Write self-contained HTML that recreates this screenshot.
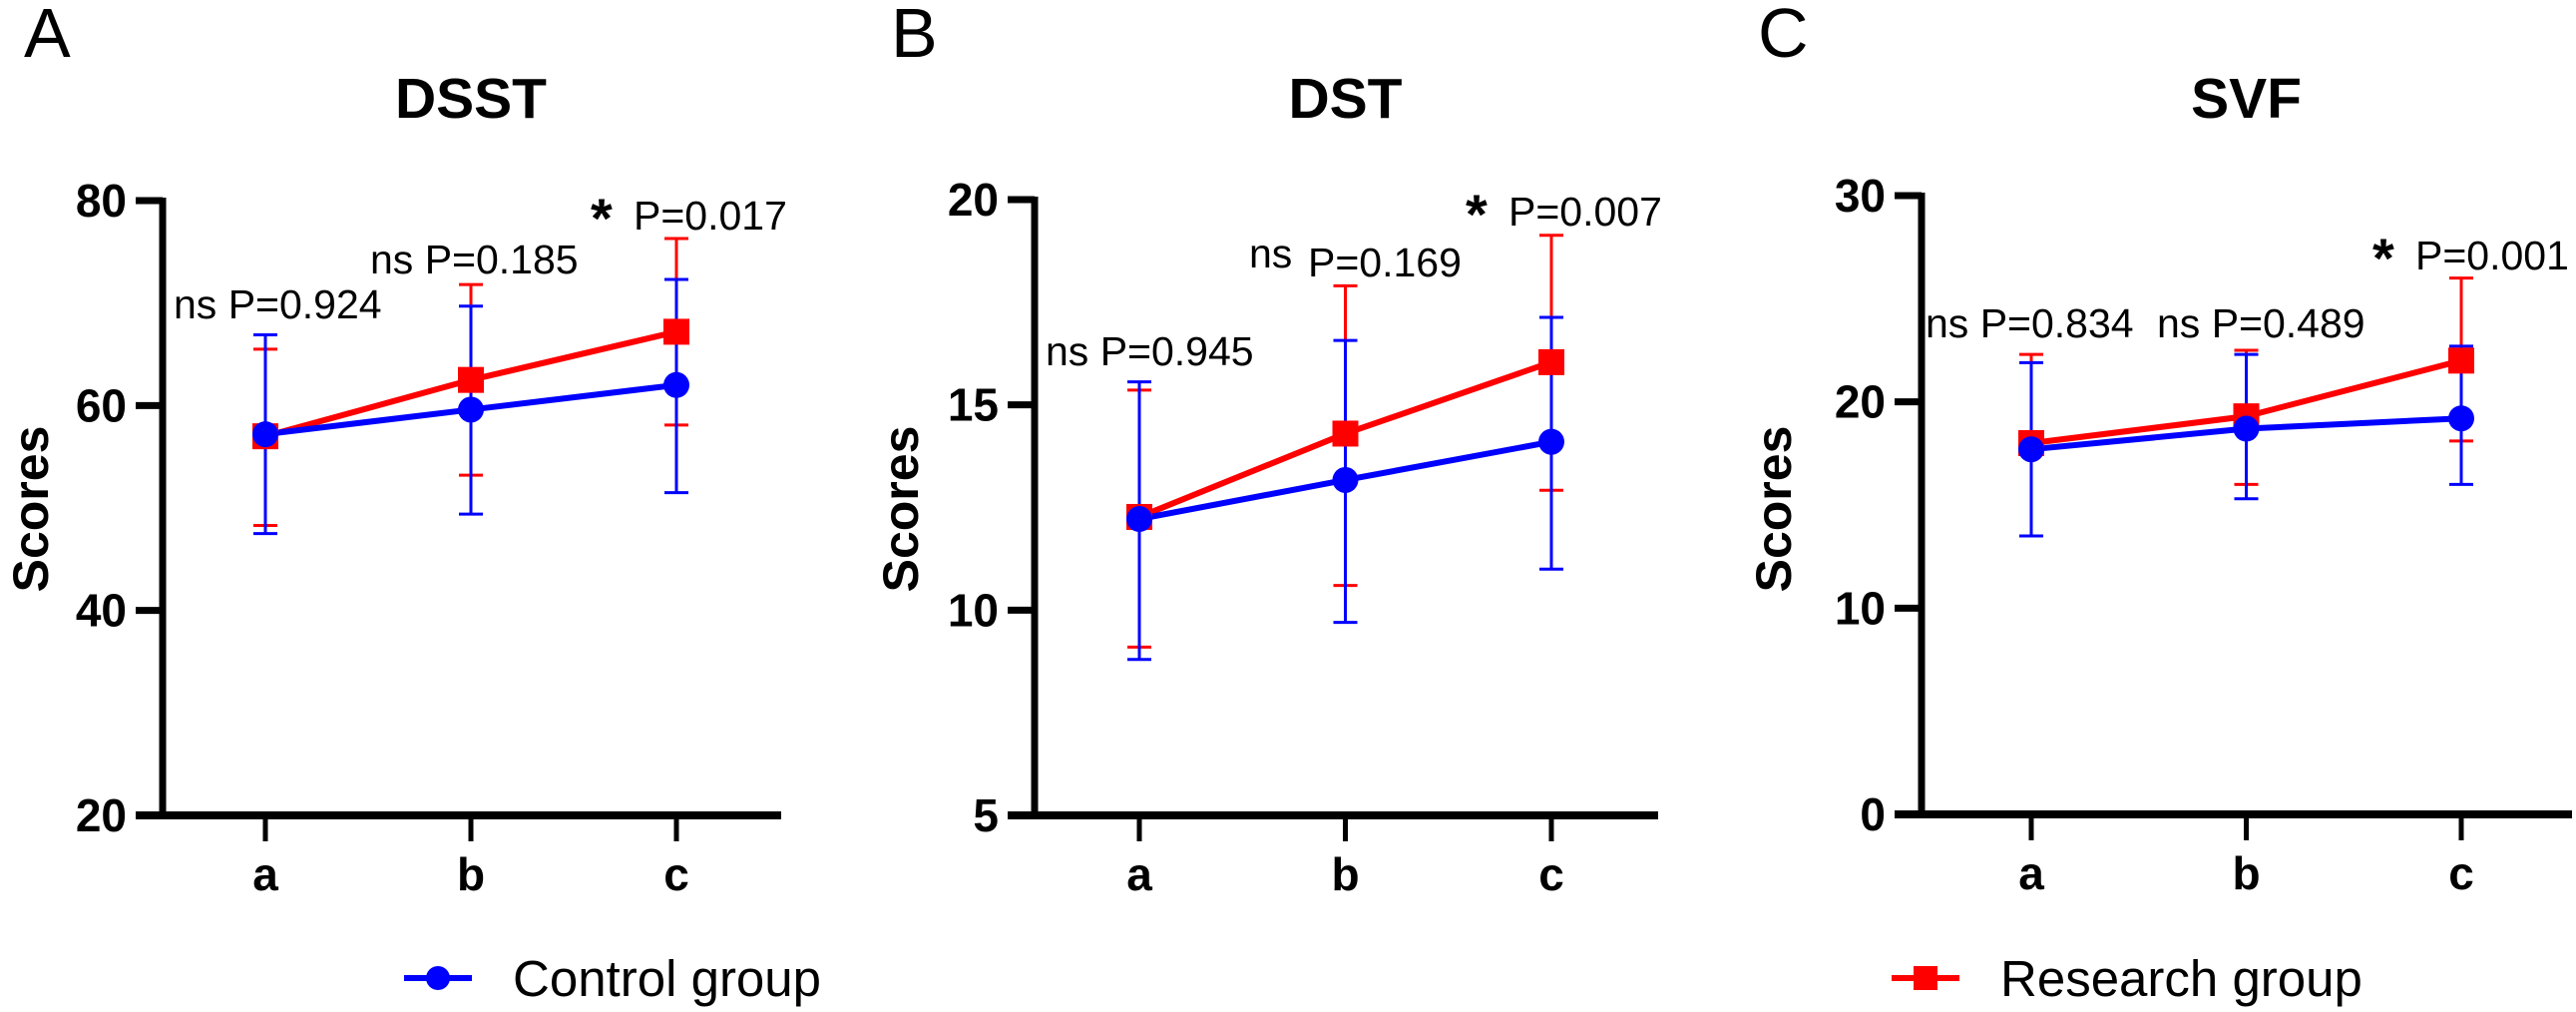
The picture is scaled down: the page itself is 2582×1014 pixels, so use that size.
<!DOCTYPE html>
<html><head><meta charset="utf-8"><style>
html,body{margin:0;padding:0;background:#fff;}
svg{display:block;font-family:"Liberation Sans",Arial,sans-serif;}
</style></head><body>
<svg id="fig" width="2582" height="1014" viewBox="0 0 2582 1014" xmlns="http://www.w3.org/2000/svg">
  <text x="24" y="57" font-size="70">A</text>
  <text x="893" y="57" font-size="70">B</text>
  <text x="1762" y="57" font-size="70">C</text>
  <g id="plots"></g>
  <g font-size="41">
    <text x="174" y="319">ns P=0.924</text>
    <text x="371" y="274">ns P=0.185</text>
    <text x="592" y="238" font-size="56" font-weight="bold">*</text>
    <text x="635" y="230">P=0.017</text>
    <text x="1048" y="366">ns P=0.945</text>
    <text x="1252" y="268">ns</text>
    <text x="1311" y="277">P=0.169</text>
    <text x="1469" y="234" font-size="56" font-weight="bold">*</text>
    <text x="1512" y="226">P=0.007</text>
    <text x="1930" y="338">ns P=0.834</text>
    <text x="2162" y="338">ns P=0.489</text>
    <text x="2378" y="278" font-size="56" font-weight="bold">*</text>
    <text x="2421" y="270">P=0.001</text>
  </g>
  <g>
    <line x1="405" y1="980" x2="473" y2="980" stroke="#0000ff" stroke-width="6"/>
    <circle cx="439" cy="980" r="12" fill="#0000ff"/>
    <text x="514" y="998" font-size="51">Control group</text>
  </g>
  <g>
    <line x1="1896" y1="980" x2="1964" y2="980" stroke="#ff0000" stroke-width="6"/>
    <rect x="1918" y="968" width="24" height="24" fill="#ff0000"/>
    <text x="2005" y="998" font-size="51">Research group</text>
  </g>
</svg>
<script>
const categories = ["a", "b", "c"];
const titles = ["DSST", "DST", "SVF"];
const yTicksA = [20, 40, 60, 80];
const yTicksB = [5, 10, 15, 20];
const yTicksC = [0, 10, 20, 30];
const controlA = [57.2, 59.6, 62.0];
const controlAHi = [66.9, 69.7, 72.3];
const controlALo = [47.5, 49.4, 51.5];
const researchA = [57.0, 62.5, 67.2];
const researchAHi = [65.5, 71.8, 76.3];
const researchALo = [48.3, 53.2, 58.1];
const controlB = [12.22, 13.17, 14.1];
const controlBHi = [15.56, 16.57, 17.13];
const controlBLo = [8.8, 9.7, 11.0];
const researchB = [12.27, 14.3, 16.04];
const researchBHi = [15.36, 17.9, 19.13];
const researchBLo = [9.1, 10.6, 12.92];
const controlC = [17.7, 18.7, 19.2];
const controlCHi = [21.9, 22.3, 22.7];
const controlCLo = [13.5, 15.3, 16.0];
const researchC = [18.0, 19.3, 22.0];
const researchCHi = [22.3, 22.5, 26.0];
const researchCLo = [13.5, 16.0, 18.1];

const NS = "http://www.w3.org/2000/svg";
const root = document.getElementById("plots");
function mk(tag, attrs, parent) {
  const e = document.createElementNS(NS, tag);
  for (const k in attrs) e.setAttribute(k, attrs[k]);
  parent.appendChild(e);
  return e;
}
const layouts = [
  {ax: 163, x0: 266, dx: 206, xEnd: 783, top: 201, bottom: 817, scoresX: 30},
  {ax: 1037, x0: 1142, dx: 206.5, xEnd: 1662, top: 200, bottom: 817, scoresX: 902},
  {ax: 1926, x0: 2036, dx: 215.5, xEnd: 2578, top: 196, bottom: 816, scoresX: 1777}
];
const panels = [
  {ticks: yTicksA, c: controlA, cHi: controlAHi, cLo: controlALo, r: researchA, rHi: researchAHi, rLo: researchALo},
  {ticks: yTicksB, c: controlB, cHi: controlBHi, cLo: controlBLo, r: researchB, rHi: researchBHi, rLo: researchBLo},
  {ticks: yTicksC, c: controlC, cHi: controlCHi, cLo: controlCLo, r: researchC, rHi: researchCHi, rLo: researchCLo}
];
panels.forEach((p, i) => {
  const L = layouts[i];
  const ymin = p.ticks[0], ymax = p.ticks[p.ticks.length - 1];
  const y = v => L.bottom - (v - ymin) / (ymax - ymin) * (L.bottom - L.top);
  const x = j => L.x0 + j * L.dx;
  const g = mk("g", {}, root);
  
  
  const t = mk("text", {x: x(1), y: 118, "font-size": 57, "font-weight": "bold", "text-anchor": "middle"}, g);
  t.textContent = titles[i];
  
  
  const ya = mk("line", {x1: L.ax, y1: L.top - 3, x2: L.ax, y2: L.bottom + 4, stroke: "#000", "stroke-width": 7}, g);
  
  
  p.ticks.forEach(v => {
    const tk = mk("line", {x1: L.ax - 27, y1: y(v), x2: L.ax, y2: y(v), stroke: "#000", "stroke-width": 7}, g);
    
    
    const tl = mk("text", {x: L.ax - 36, y: y(v) + 16, "font-size": 46, "font-weight": "bold", "text-anchor": "end"}, g);
    tl.textContent = v;
    
    
  });
  const xa = mk("line", {x1: L.ax - 27, y1: L.bottom, x2: L.xEnd, y2: L.bottom, stroke: "#000", "stroke-width": 8}, g);
  
  
  categories.forEach((c, j) => {
    const tk = mk("line", {x1: x(j), y1: L.bottom, x2: x(j), y2: L.bottom + 26, stroke: "#000", "stroke-width": 5}, g);
    
    
    const tl = mk("text", {x: x(j), y: L.bottom + 75, "font-size": 46, "font-weight": "bold", "text-anchor": "middle"}, g);
    tl.textContent = c;
    
    
  });
  const yt = mk("text", {x: 0, y: 0, "font-size": 50, "font-weight": "bold", "text-anchor": "middle", transform: "translate(" + (L.scoresX + 18) + "," + 510 + ") rotate(-90)"}, g);
  yt.textContent = "Scores";
  
  
  function errbars(vals, hi, lo, color, name) {
    vals.forEach((v, j) => {
      const eg = mk("g", {stroke: color, "stroke-width": 3}, g);
      
      
      mk("line", {x1: x(j), y1: y(hi[j]), x2: x(j), y2: y(lo[j])}, eg);
      mk("line", {x1: x(j) - 12, y1: y(hi[j]), x2: x(j) + 12, y2: y(hi[j])}, eg);
      mk("line", {x1: x(j) - 12, y1: y(lo[j]), x2: x(j) + 12, y2: y(lo[j])}, eg);
    });
  }
  errbars(p.r, p.rHi, p.rLo, "#ff0000", "research");
  errbars(p.c, p.cHi, p.cLo, "#0000ff", "control");
  const rl = mk("polyline", {points: p.r.map((v, j) => x(j) + "," + y(v)).join(" "), fill: "none", stroke: "#ff0000", "stroke-width": 6}, g);
  
  
  const cl = mk("polyline", {points: p.c.map((v, j) => x(j) + "," + y(v)).join(" "), fill: "none", stroke: "#0000ff", "stroke-width": 6}, g);
  
  
  p.r.forEach((v, j) => {
    const m = mk("rect", {x: x(j) - 13, y: y(v) - 13, width: 26, height: 26, fill: "#ff0000"}, g);
    
    
  });
  p.c.forEach((v, j) => {
    const m = mk("circle", {cx: x(j), cy: y(v), r: 13, fill: "#0000ff"}, g);
    
    
  });
});
</script>
</body></html>
